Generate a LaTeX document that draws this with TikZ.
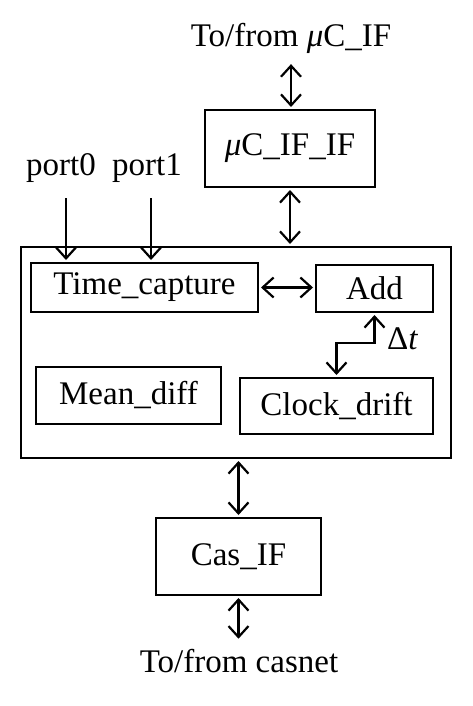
\documentclass[tikz,border=0pt]{standalone}
\usepackage{fontspec}
\setmainfont{Liberation Serif}
\usepackage{tikz}
\usetikzlibrary{arrows.meta}
\tikzset{
Boite/.style 2 args={
 draw=black,
 line width=1.2pt,
 minimum width=#1,
 minimum height=#2,
 inner sep=0pt,
 outer sep=0pt
 },
DoubleFleche/.style={
 draw=black,
 line width=1.1pt,
 {Straight Barb[length=5.5pt,width=10pt]}-{Straight Barb[length=5.5pt,width=10pt]},
 shorten <=1.5pt,
 shorten >=1.5pt
 },
Fleche/.style={
 draw=black,
 line width=1.1pt,
 -{Straight Barb[length=5.5pt,width=10pt]},
 shorten >=1.5pt
 }
}

\begin{document}
\begin{tikzpicture}[x=0.5pt,y=-0.5pt,font=\fontsize{16.5}{19}\selectfont]
\useasboundingbox (0,0) rectangle (472,706);
% boites
\node[Boite={85pt}{38.5pt}] (ucif) at (290,148.5) {{\itshape μ}C\_IF\_IF};
\node[Boite={215pt}{105.5pt}] (coeur) at (236,352.5) {};
\node[Boite={113.5pt}{24.5pt}] (capture) at (144.5,287.5) {Time\_capture};
\node[Boite={58.5pt}{23.5pt}] (add) at (374.5,288.5) {Add};
\node[Boite={92.5pt}{28.5pt}] (mean) at (128.5,395.5) {Mean\_diff};
\node[Boite={96.5pt}{28pt}] (drift) at (336.5,406) {Clock\_drift};
\node[Boite={82.5pt}{38.5pt}] (casif) at (238.5,556.5) {Cas\_IF};
% textes
\node[anchor=base] (haut) at (291,47) {To/from {\itshape μ}C\_IF};
\node[anchor=base] (bas) at (239,672) {To/from casnet};
\node[anchor=base] (port0) at (61,175) {port0};
\node[anchor=base] (port1) at (147,175) {port1};
\coordinate (e0) at (66,198);
\coordinate (e1) at (151,198);
\coordinate (coude) at (356,343);
% fleches
\draw[DoubleFleche] (haut.south) -- (haut.south |- ucif.north);
\draw[DoubleFleche] (ucif.south) -- (ucif.south |- coeur.north);
\draw[Fleche] (e0) -- (e0 |- capture.north);
\draw[Fleche] (e1) -- (e1 |- capture.north);
\draw[DoubleFleche] (capture.east) -- (capture.east -| add.west);
\draw[DoubleFleche] (add.south) |- (coude) -| (drift.north);
\node[anchor=base west] (delta) at (380,349) {Δ\textit{t}};
\draw[DoubleFleche] (casif.north |- coeur.south) -- (casif.north);
\draw[DoubleFleche] (casif.south) -- (casif.south |- bas.north);
\end{tikzpicture}
\end{document}
